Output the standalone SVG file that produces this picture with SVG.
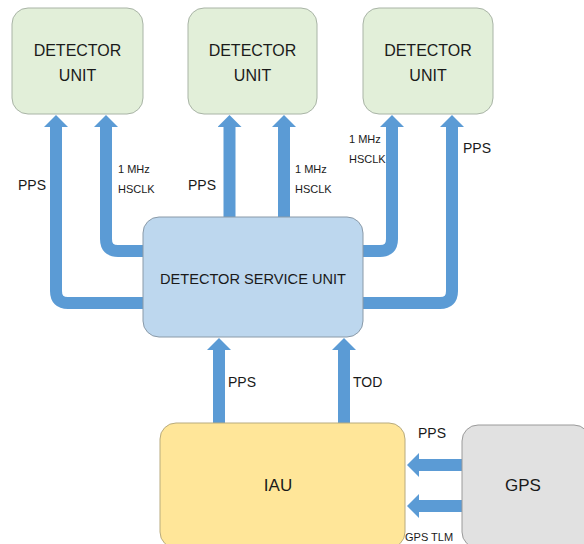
<svg xmlns="http://www.w3.org/2000/svg" width="584" height="544" viewBox="0 0 584 544">
<style>
.du{fill:#e2efd9;stroke:#a9b4a6;stroke-width:1}
.dsu{fill:#bdd7ee;stroke:#8a9aa8;stroke-width:1}
.iau{fill:#ffe699;stroke:#b8ab7e;stroke-width:1}
.gps{fill:#e1e1e1;stroke:#9a9a9a;stroke-width:1}
.t{font-family:"Liberation Sans",Arial,sans-serif;fill:#1a1a1a;text-anchor:middle}
.big{font-size:16px}
.lab{font-family:"Liberation Sans",Arial,sans-serif;fill:#1a1a1a;font-size:14px}
.sm{font-family:"Liberation Sans",Arial,sans-serif;fill:#1a1a1a;font-size:11px}
.c{fill:none;stroke:#5b9bd5;stroke-width:12;marker-end:url(#ah)}
</style>
<defs>
<marker id="ah" markerUnits="userSpaceOnUse" markerWidth="12" markerHeight="24" viewBox="0 0 12 24" refX="0" refY="12" orient="auto">
<path d="M0,0 L12,12 L0,24 z" fill="#5b9bd5"/>
</marker>
</defs>
<rect width="584" height="544" fill="#ffffff"/>
<g id="connectors">
<path class="c" d="M144,303 H68 Q56,303 56,291 V127"/>
<path class="c" d="M144,251 H118 Q106,251 106,239 V127"/>
<path class="c" d="M229.5,218 V127"/>
<path class="c" d="M284,218 V127"/>
<path class="c" d="M362,251 H380 Q392,251 392,239 V127"/>
<path class="c" d="M362,303 H440 Q452,303 452,291 V127"/>
<path class="c" d="M219,424 V350"/>
<path class="c" d="M344,424 V350"/>
<path class="c" d="M463,465 H419"/>
<path class="c" d="M463,506 H419"/>
</g>
<g id="du1"><rect class="du" x="12" y="8" width="131" height="106" rx="16"/><text class="t big" x="77.5" y="56">DETECTOR</text><text class="t big" x="77.5" y="81">UNIT</text></g>
<g id="du2"><rect class="du" x="188" y="8" width="129" height="106" rx="16"/><text class="t big" x="252.5" y="56">DETECTOR</text><text class="t big" x="252.5" y="81">UNIT</text></g>
<g id="du3"><rect class="du" x="363" y="8" width="130" height="106" rx="16"/><text class="t big" x="428" y="56">DETECTOR</text><text class="t big" x="428" y="81">UNIT</text></g>
<g id="dsu"><rect class="dsu" x="143" y="217" width="220" height="120" rx="16"/><text class="t" x="253" y="284" font-size="15" textLength="186" lengthAdjust="spacingAndGlyphs">DETECTOR SERVICE UNIT</text></g>
<g id="iau"><rect class="iau" x="160" y="423" width="245" height="125" rx="16"/><text class="t" x="278" y="491" font-size="17">IAU</text></g>
<g id="gps"><rect class="gps" x="462" y="425" width="128" height="123" rx="16"/><text class="t" x="523" y="491" font-size="17">GPS</text></g>
<g id="labels">
<text class="lab" x="18" y="190">PPS</text>
<text class="sm" x="118" y="173">1 MHz</text>
<text class="sm" x="118" y="193">HSCLK</text>
<text class="lab" x="188" y="190">PPS</text>
<text class="sm" x="295" y="173">1 MHz</text>
<text class="sm" x="295" y="193">HSCLK</text>
<text class="sm" x="349" y="143">1 MHz</text>
<text class="sm" x="349" y="163">HSCLK</text>
<text class="lab" x="463" y="153">PPS</text>
<text class="lab" x="228" y="387">PPS</text>
<text class="lab" x="353" y="387">TOD</text>
<text class="lab" x="418" y="438">PPS</text>
<text class="sm" x="405" y="541">GPS TLM</text>
</g>
</svg>
